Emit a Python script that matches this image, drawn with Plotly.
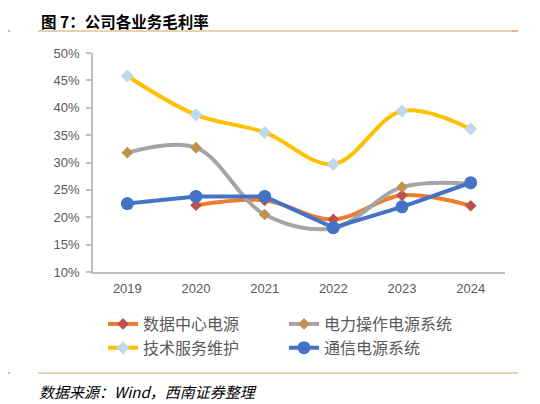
import plotly.graph_objects as go

years = ["2019", "2020", "2021", "2022", "2023", "2024"]
data_center = [None, 22.2, 23.1, 19.6, 24.0, 22.1]
power_ops = [31.8, 32.7, 20.5, 18.0, 25.5, 26.1]
tech_service = [45.8, 38.7, 35.5, 29.7, 39.4, 36.1]
telecom = [22.5, 23.8, 23.8, 18.1, 21.9, 26.3]
y_ticks = [10, 15, 20, 25, 30, 35, 40, 45, 50]
y_tick_labels = [f"{v}%" for v in y_ticks]

OFF = 8  # page body margin
W, H = 540 - OFF, 404 - OFF
L, R, T, B = 93 - OFF, 35, 53 - OFF, 132
PW, PH = W - L - R, H - T - B

def px(x):
    return (x - OFF - L) / PW

def py(y):
    return (H - B - (y - OFF)) / PH

fig = go.Figure()
fig.add_trace(go.Scatter(
    x=years, y=data_center, name="数据中心电源", mode="lines+markers",
    line=dict(color="#ED7D31", width=4, shape="spline", smoothing=1),
    marker=dict(symbol="diamond", size=9, color="#C0504D")))
fig.add_trace(go.Scatter(
    x=years, y=power_ops, name="电力操作电源系统", mode="lines+markers",
    line=dict(color="#A5A5A5", width=4, shape="spline", smoothing=1),
    marker=dict(symbol="diamond", size=9, color="#C0914A")))
fig.add_trace(go.Scatter(
    x=years, y=tech_service, name="技术服务维护", mode="lines+markers",
    line=dict(color="#FFC000", width=4, shape="spline", smoothing=1),
    marker=dict(symbol="diamond", size=10, color="#BDD7EE")))
fig.add_trace(go.Scatter(
    x=years, y=telecom, name="通信电源系统", mode="lines+markers",
    line=dict(color="#4472C4", width=4),
    marker=dict(symbol="circle", size=13, color="#4472C4")))

gold = "#D2A360"
shapes = [
    dict(type="line", xref="paper", yref="paper", x0=px(38), x1=px(512), y0=py(31), y1=py(31),
         line=dict(color=gold, width=1.2)),
    dict(type="line", xref="paper", yref="paper", x0=px(5), x1=px(10), y0=py(31), y1=py(31),
         line=dict(color=gold, width=1.5)),
    dict(type="line", xref="paper", yref="paper", x0=px(512), x1=px(518), y0=py(31), y1=py(31),
         line=dict(color=gold, width=1.5)),
    dict(type="line", xref="paper", yref="paper", x0=px(38), x1=px(518), y0=py(373), y1=py(373),
         line=dict(color=gold, width=1.2)),
    dict(type="line", xref="paper", yref="paper", x0=px(5), x1=px(10), y0=py(373), y1=py(373),
         line=dict(color=gold, width=1.5)),
]

annotations = [
    dict(text="<b>图 7：公司各业务毛利率</b>", xref="paper", yref="paper", x=px(39), y=py(OFF),
         xanchor="left", yanchor="top", showarrow=False,
         font=dict(family="Noto Sans CJK SC", size=15.5, color="#000000")),
    dict(text="<i>数据来源：Wind，西南证券整理</i>", xref="paper", yref="paper", x=px(37), y=py(391),
         xanchor="left", yanchor="middle", showarrow=False,
         font=dict(family="Noto Sans CJK SC", size=15, color="#000000")),
]

fig.update_layout(
    width=W, height=H,
    margin=dict(l=L, r=R, t=T, b=B, pad=0),
    paper_bgcolor="white", plot_bgcolor="white",
    showlegend=True,
    legend=dict(orientation="h", x=px(103), y=py(307), xanchor="left", yanchor="top",
                entrywidth=136, entrywidthmode="pixels", tracegroupgap=0,
                font=dict(family="Noto Sans CJK SC", size=16, color="#595959"),
                bgcolor="rgba(0,0,0,0)"),
    xaxis=dict(type="category", range=[-0.5, 5.5], showgrid=False, showline=True,
               linecolor="#BFBFBF", linewidth=1.5, ticks="", zeroline=False,
               ticklabelstandoff=4,
               tickfont=dict(family="Liberation Sans", size=13, color="#595959")),
    yaxis=dict(range=[10, 50], tickvals=y_ticks, ticktext=y_tick_labels, showgrid=False,
               showline=True, linecolor="#BFBFBF", linewidth=1.5, ticks="outside",
               ticklen=5, tickcolor="#BFBFBF", tickwidth=1.5, zeroline=False,
               ticklabelstandoff=4,
               tickfont=dict(family="Liberation Sans", size=13, color="#595959")),
    shapes=shapes, annotations=annotations,
)

fig.write_html("out.html")
